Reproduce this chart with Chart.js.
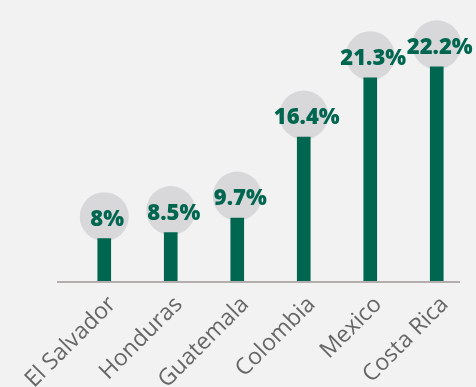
<!DOCTYPE html>
<html>
<head>
<meta charset="utf-8">
<script src="https://cdn.jsdelivr.net/npm/chart.js@4.4.0/dist/chart.umd.min.js"></script>
<style>
	html, body { margin: 0; padding: 0; background: #f2f2f2; }
	#wrap { width: 476px; height: 387px; }
</style>
</head>
<body>
<div id="wrap"><canvas id="myChart"></canvas></div>
<script>
	const countries = ["El Salvador", "Honduras", "Guatemala", "Colombia", "Mexico", "Costa Rica"];
	const shares = [8, 8.5, 9.7, 16.4, 21.3, 22.2];
	const shareLabels = ["8%", "8.5%", "9.7%", "16.4%", "21.3%", "22.2%"];

	const green = "#00664f";

	// grey discs behind each value, drawn before the bars so the bar covers the bottom
	const bubbles = {
		id: "bubbles",
		beforeDatasetsDraw(chart) {
			const ctx = chart.ctx;
			const meta = chart.getDatasetMeta(0);
			ctx.save();
			ctx.fillStyle = "#d8d8da";
			meta.data.forEach((bar) => {
				ctx.beginPath();
				ctx.arc(bar.x, bar.y - 22, 24.5, 0, Math.PI * 2);
				ctx.fill();
			});
			ctx.restore();
		},
		afterDatasetsDraw(chart) {
			const ctx = chart.ctx;
			const meta = chart.getDatasetMeta(0);
			const area = chart.chartArea;
			ctx.save();
			// baseline runs a little past the first bar on the left
			ctx.strokeStyle = "#b3adad";
			ctx.lineWidth = 2;
			ctx.beginPath();
			ctx.moveTo(area.left - 14, area.bottom + 1);
			ctx.lineTo(area.right - 10, area.bottom + 1);
			ctx.stroke();

			ctx.fillStyle = green;
			ctx.font = "800 22px 'Open Sans'";
			ctx.textAlign = "center";
			ctx.textBaseline = "middle";
			meta.data.forEach((bar, i) => {
				ctx.fillText(shareLabels[i], bar.x + 3, bar.y - 19);
			});
			ctx.restore();
		},
	};

	var ctx = document.getElementById("myChart").getContext("2d");
	var chartCanvas = new Chart(ctx, {
		type: "bar",
		data: {
			labels: countries,
			datasets: [
				{
					data: shares,
					backgroundColor: green,
					barThickness: 13,
				},
			],
		},
		options: {
			responsive: true,
			maintainAspectRatio: false,
			animation: false,
			layout: { padding: { top: 10, left: 71, right: 6 } },
			plugins: {
				legend: { display: false },
				tooltip: { enabled: false },
			},
			scales: {
				x: {
					grid: { display: false, drawTicks: false },
					border: { display: false },
					ticks: {
						minRotation: 45,
						maxRotation: 45,
						padding: 10,
						labelOffset: 8,
						color: "#666666",
						font: { family: "'Open Sans'", size: 23 },
					},
					afterFit: (scale) => {
						scale.height = 106;
						scale.paddingLeft = 0;
						scale.paddingRight = 0;
					},
				},
				y: {
					display: false,
					min: 4.5,
					max: 26.9,
				},
			},
		},
		plugins: [bubbles],
	});
</script>
</body>
</html>
